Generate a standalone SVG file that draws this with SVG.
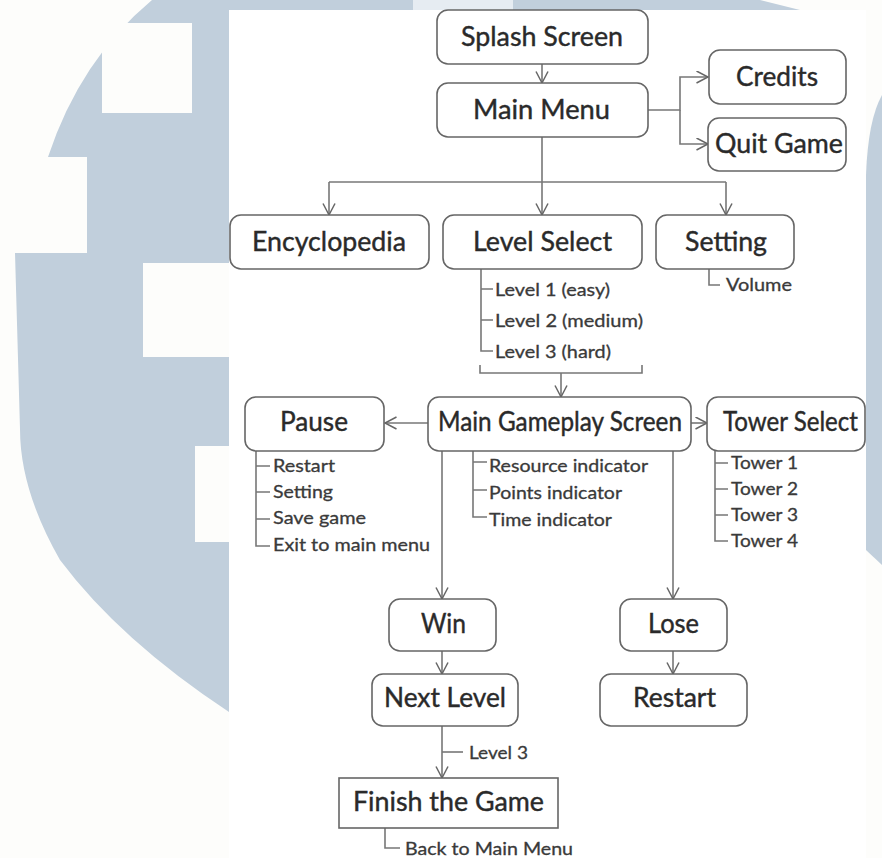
<svg xmlns="http://www.w3.org/2000/svg" width="882" height="858" viewBox="0 0 882 858">
<defs>
<style>
.bg{fill:#c1cfdc}
.box{fill:#fff;stroke:#666;stroke-width:1.6}
.c{fill:none;stroke:#777;stroke-width:1.6}
.t{font-family:Lato,"Liberation Sans",Arial,sans-serif;font-size:26px;fill:#2a2a2a;stroke:#2a2a2a;stroke-width:0.4}
.s{font-family:Lato,"Liberation Sans",Arial,sans-serif;font-size:17.5px;fill:#3a3a3a;stroke:#3a3a3a;stroke-width:0.3}
</style>
<marker id="ah" markerWidth="14" markerHeight="14" refX="12" refY="6.5" orient="auto" markerUnits="userSpaceOnUse">
<path d="M0.5,0.5 L12,6.5 L0.5,12.5" fill="none" stroke="#666" stroke-width="1.5"/>
</marker>
</defs>
<rect width="882" height="858" fill="#fdfdfb"/>
<g id="watermark">
<path class="bg" d="M152,0 H760 L800,10 H229 V712 Q120,640 60,560 Q20,490 20,429 L15,253 H87 V157 H48 Q80,60 152,0 Z"/>
<rect x="102" y="23" width="90" height="90" fill="#fdfdfb"/>
<rect x="143" y="263" width="86" height="94" fill="#fdfdfb"/>
<rect x="195" y="446" width="34" height="96" fill="#fdfdfb"/>
<rect x="413" y="0" width="100" height="10" fill="#e6ecf2"/>
<path class="bg" d="M882,95 Q868,120 866,175 V550 L882,565 Z"/>
</g>
<rect x="229" y="10" width="637" height="848" fill="#fff"/>
<g id="connectors">
<path class="c" d="M542,64 V83" marker-end="url(#ah)"/>
<path class="c" d="M648,110 H680 V77 H708" marker-end="url(#ah)"/>
<path class="c" d="M680,110 V144 H708" marker-end="url(#ah)"/>
<path class="c" d="M542,137 V215" marker-end="url(#ah)"/>
<path class="c" d="M329,182 H726"/>
<path class="c" d="M329,182 V215" marker-end="url(#ah)"/>
<path class="c" d="M726,182 V215" marker-end="url(#ah)"/>
<path class="c" d="M709,269 V285 H720"/>
<path class="c" d="M481,269 V351 H493 M481,289 H493 M481,320 H493"/>
<path class="c" d="M480,365 V373 H642 V365"/>
<path class="c" d="M561,373 V397" marker-end="url(#ah)"/>
<path class="c" d="M428,423 H385" marker-end="url(#ah)"/>
<path class="c" d="M691,423 H707" marker-end="url(#ah)"/>
<path class="c" d="M256,451 V546 H270 M256,466 H270 M256,492 H270 M256,519 H270"/>
<path class="c" d="M473,451 V517 H487 M473,462 H487 M473,490 H487"/>
<path class="c" d="M715,451 V541 H728 M715,463 H728 M715,489 H728 M715,515 H728"/>
<path class="c" d="M442,451 V599" marker-end="url(#ah)"/>
<path class="c" d="M442,651 V674" marker-end="url(#ah)"/>
<path class="c" d="M442,726 V778" marker-end="url(#ah)"/>
<path class="c" d="M442,752 H463"/>
<path class="c" d="M673,451 V599" marker-end="url(#ah)"/>
<path class="c" d="M673,651 V674" marker-end="url(#ah)"/>
<path class="c" d="M385,828 V848 H400"/>
</g>
<g id="splash"><rect class="box" x="437" y="10" width="211" height="54" rx="11"/><text class="t" x="461" y="46" textLength="162" lengthAdjust="spacingAndGlyphs">Splash Screen</text></g>
<g id="mainmenu"><rect class="box" x="437" y="83" width="211" height="54" rx="11"/><text class="t" x="473" y="119" textLength="137" lengthAdjust="spacingAndGlyphs">Main Menu</text></g>
<g id="credits"><rect class="box" x="709" y="50" width="137" height="54" rx="11"/><text class="t" x="736" y="86" textLength="82" lengthAdjust="spacingAndGlyphs">Credits</text></g>
<g id="quit"><rect class="box" x="708" y="118" width="138" height="53" rx="11"/><text class="t" x="715" y="153" textLength="128" lengthAdjust="spacingAndGlyphs">Quit Game</text></g>
<g id="encyclopedia"><rect class="box" x="230" y="215" width="199" height="54" rx="11"/><text class="t" x="252" y="251" textLength="154" lengthAdjust="spacingAndGlyphs">Encyclopedia</text></g>
<g id="levelselect"><rect class="box" x="443" y="215" width="199" height="54" rx="11"/><text class="t" x="473" y="251" textLength="139" lengthAdjust="spacingAndGlyphs">Level Select</text>
<text class="s" x="495" y="296" textLength="115" lengthAdjust="spacingAndGlyphs">Level 1 (easy)</text>
<text class="s" x="495" y="327" textLength="148" lengthAdjust="spacingAndGlyphs">Level 2 (medium)</text>
<text class="s" x="495" y="358" textLength="116" lengthAdjust="spacingAndGlyphs">Level 3 (hard)</text></g>
<g id="setting"><rect class="box" x="656" y="215" width="138" height="54" rx="11"/><text class="t" x="685" y="251" textLength="82" lengthAdjust="spacingAndGlyphs">Setting</text>
<text class="s" x="726" y="291" textLength="66" lengthAdjust="spacingAndGlyphs">Volume</text></g>
<g id="gameplay"><rect class="box" x="428" y="397" width="263" height="54" rx="11"/><text class="t" x="438" y="431" textLength="244" lengthAdjust="spacingAndGlyphs">Main Gameplay Screen</text>
<text class="s" x="489" y="472" textLength="159" lengthAdjust="spacingAndGlyphs">Resource indicator</text>
<text class="s" x="489" y="499" textLength="133" lengthAdjust="spacingAndGlyphs">Points indicator</text>
<text class="s" x="489" y="526" textLength="123" lengthAdjust="spacingAndGlyphs">Time indicator</text></g>
<g id="pause"><rect class="box" x="245" y="397" width="139" height="54" rx="11"/><text class="t" x="280" y="431" textLength="68" lengthAdjust="spacingAndGlyphs">Pause</text>
<text class="s" x="273" y="472" textLength="62" lengthAdjust="spacingAndGlyphs">Restart</text>
<text class="s" x="273" y="498" textLength="60" lengthAdjust="spacingAndGlyphs">Setting</text>
<text class="s" x="273" y="524" textLength="93" lengthAdjust="spacingAndGlyphs">Save game</text>
<text class="s" x="273" y="551" textLength="157" lengthAdjust="spacingAndGlyphs">Exit to main menu</text></g>
<g id="towerselect"><rect class="box" x="707" y="397" width="158" height="54" rx="11"/><text class="t" x="723" y="431" textLength="135" lengthAdjust="spacingAndGlyphs">Tower Select</text>
<text class="s" x="731" y="469" textLength="67" lengthAdjust="spacingAndGlyphs">Tower 1</text>
<text class="s" x="731" y="495" textLength="67" lengthAdjust="spacingAndGlyphs">Tower 2</text>
<text class="s" x="731" y="521" textLength="67" lengthAdjust="spacingAndGlyphs">Tower 3</text>
<text class="s" x="731" y="547" textLength="67" lengthAdjust="spacingAndGlyphs">Tower 4</text></g>
<g id="win"><rect class="box" x="389" y="599" width="107" height="52" rx="11"/><text class="t" x="421" y="633" textLength="45" lengthAdjust="spacingAndGlyphs">Win</text></g>
<g id="nextlevel"><rect class="box" x="372" y="674" width="146" height="52" rx="11"/><text class="t" x="384" y="707" textLength="122" lengthAdjust="spacingAndGlyphs">Next Level</text>
<text class="s" x="469" y="759" textLength="59" lengthAdjust="spacingAndGlyphs">Level 3</text></g>
<g id="finish"><rect class="box" x="339" y="778" width="219" height="50"/><text class="t" x="353" y="811" textLength="191" lengthAdjust="spacingAndGlyphs">Finish the Game</text>
<text class="s" x="405" y="855" textLength="168" lengthAdjust="spacingAndGlyphs">Back to Main Menu</text></g>
<g id="lose"><rect class="box" x="620" y="599" width="107" height="52" rx="11"/><text class="t" x="648" y="633" textLength="51" lengthAdjust="spacingAndGlyphs">Lose</text></g>
<g id="restart"><rect class="box" x="600" y="674" width="147" height="52" rx="11"/><text class="t" x="633" y="707" textLength="83" lengthAdjust="spacingAndGlyphs">Restart</text></g>
</svg>
